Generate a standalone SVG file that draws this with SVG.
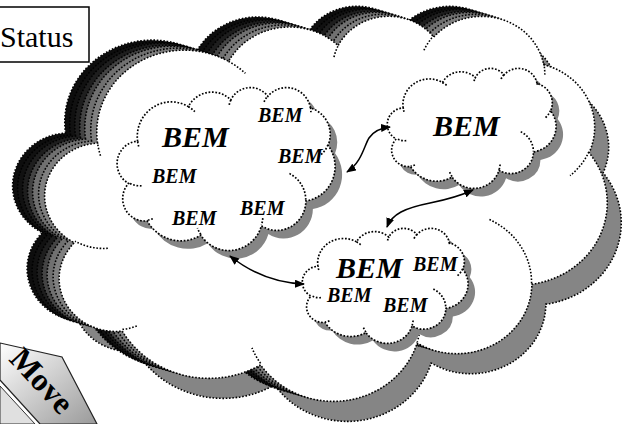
<svg xmlns="http://www.w3.org/2000/svg" xmlns:xlink="http://www.w3.org/1999/xlink" width="623" height="424" viewBox="0 0 623 424">
<style>
.dot{stroke:#000;stroke-width:1.6;stroke-dasharray:1.6 1.7;}
.ndot{stroke:#000;stroke-width:1.7;stroke-dasharray:1.7 1.7;vector-effect:non-scaling-stroke;}
.nf{fill:none;}
.wf{fill:#fff;}
.bem{font-family:"Liberation Serif","Times New Roman",serif;font-weight:bold;font-style:italic;fill:#000;}
.big{font-size:30px;}
.sm{font-size:20px;}
.conn{fill:none;stroke:#000;stroke-width:1.5;}
</style>
<defs>
<path id="oc" d="M50.56,128.07 A87.54,81.90 0 0 1 181.55,46.36 A69.13,64.76 0 0 1 291.10,30.58 A56.58,52.98 0 0 1 386.73,22.11 A62.96,58.77 0 0 1 496.72,49.70 A69.13,64.82 0 0 1 542.10,137.78 A87.82,82.17 0 0 1 484.86,269.16 A74.99,70.11 0 0 1 370.16,328.07 A87.53,82.12 0 0 1 213.62,349.91 A100.07,93.96 0 0 1 75.23,316.10 A56.52,52.74 0 0 1 27.38,227.68 A56.32,52.98 0 0 1 50.56,128.07 Z"/>
<path id="oi" d="M60.83,233.29 A56.32,52.98 0 0 1 28.0,226.19 M89.81,311.02 A56.52,52.74 0 0 1 75.44,314.42 M213.61,348.37 A87.53,82.12 0 0 1 204.95,332.87 M373.68,309.70 A87.53,82.12 0 0 1 370.23,326.71 M442.41,204.57 A74.99,70.11 0 0 1 484.56,268.16 M541.83,136.84 A69.13,64.82 0 0 1 523.05,160.69 M496.79,48.36 A62.96,58.77 0 0 1 497.78,59.62 M376.94,35.22 A62.96,58.77 0 0 1 386.56,20.85 M287.01,42.07 A56.58,52.98 0 0 1 291.67,29.68 M181.48,46.27 A87.54,81.90 0 0 1 198.32,58.29 M53.50,140.71 A87.54,81.90 0 0 1 50.56,128.07"/>
<path id="uc" vector-effect="non-scaling-stroke" d="M90.28,332.64 A156.32,212.73 0 0 1 324.20,120.42 A123.45,168.22 0 0 1 519.82,79.43 A101.04,137.62 0 0 1 690.59,57.43 A112.43,152.66 0 0 1 887.00,129.09 A123.45,168.36 0 0 1 968.03,357.88 A156.83,213.43 0 0 1 865.83,699.12 A133.91,182.11 0 0 1 661.00,852.13 A156.30,213.31 0 0 1 381.47,908.86 A178.70,244.05 0 0 1 134.34,821.05 A100.93,136.99 0 0 1 48.90,591.38 A100.58,137.62 0 0 1 90.28,332.64 Z"/>
<path id="ui" vector-effect="non-scaling-stroke" d="M108.63,605.95 A100.58,137.62 0 0 1 50.0,587.5 M160.37,807.85 A100.93,136.99 0 0 1 134.71,816.68 M381.44,904.86 A156.30,213.31 0 0 1 365.99,864.61 M667.29,804.42 A156.30,213.31 0 0 1 661.12,848.61 M790.02,531.34 A133.91,182.11 0 0 1 865.29,696.53 M967.55,355.42 A123.45,168.36 0 0 1 934.01,417.38 M887.13,125.60 A112.43,152.66 0 0 1 888.90,154.85 M673.10,91.48 A112.43,152.66 0 0 1 690.28,54.15 M512.52,109.26 A101.04,137.62 0 0 1 520.84,77.08 M324.07,120.19 A156.32,212.73 0 0 1 354.15,151.39 M95.53,365.49 A156.32,212.73 0 0 1 90.28,332.64"/>
<marker id="ah" viewBox="0 0 10 8" refX="9" refY="4" markerWidth="10" markerHeight="8" markerUnits="userSpaceOnUse" orient="auto-start-reverse">
<path d="M0,0 L10,4 L0,8 Z" fill="#000"/>
</marker>
<linearGradient id="mg" x1="0" y1="0" x2="1" y2="1">
<stop offset="0" stop-color="#ffffff"/>
<stop offset="1" stop-color="#9a9a9a"/>
</linearGradient>
</defs>
<rect width="623" height="424" fill="#fff"/>

<g id="main-cloud">
<use xlink:href="#oc" transform="translate(61,35)" fill="#858585" class="dot"/>
<use xlink:href="#oc" transform="translate(15,5)" fill="#0d0d0d" class="dot"/>
<use xlink:href="#oc" transform="translate(20,7)" fill="#111111" class="dot"/>
<use xlink:href="#oc" transform="translate(25,8)" fill="#1e1e1e" class="dot"/>
<use xlink:href="#oc" transform="translate(30,10)" fill="#444444" class="dot"/>
<use xlink:href="#oc" transform="translate(35,11)" fill="#707070" class="dot"/>
<use xlink:href="#oc" transform="translate(41,13)" fill="#808080" class="dot"/>
<use xlink:href="#oc" transform="translate(47,15)" fill="#fff" class="dot"/>
<use xlink:href="#oi" transform="translate(47,15)" fill="none" class="dot"/>
</g>

<g id="cloud-a">
<use xlink:href="#uc" transform="translate(125,95) scale(0.217,0.163)" fill="#858585"/>
<use xlink:href="#uc" transform="translate(118,87) scale(0.217,0.163)" class="ndot wf"/>
<use xlink:href="#ui" transform="translate(118,87) scale(0.217,0.163)" class="ndot nf"/>
<text class="bem big" x="162" y="147">BEM</text>
<text class="bem sm" x="258" y="122">BEM</text>
<text class="bem sm" x="278" y="163">BEM</text>
<text class="bem sm" x="152" y="183">BEM</text>
<text class="bem sm" x="240" y="215">BEM</text>
<text class="bem sm" x="172" y="225">BEM</text>
</g>

<g id="cloud-b">
<use xlink:href="#uc" transform="translate(395,76) scale(0.168,0.120)" fill="#858585"/>
<use xlink:href="#uc" transform="translate(388,68) scale(0.168,0.120)" class="ndot wf"/>
<use xlink:href="#ui" transform="translate(388,68) scale(0.168,0.120)" class="ndot nf"/>
<text class="bem big" x="433" y="136">BEM</text>
</g>

<g id="cloud-c">
<use xlink:href="#uc" transform="translate(310,236) scale(0.165,0.115)" fill="#858585"/>
<use xlink:href="#uc" transform="translate(303,228) scale(0.165,0.115)" class="ndot wf"/>
<use xlink:href="#ui" transform="translate(303,228) scale(0.165,0.115)" class="ndot nf"/>
<text class="bem big" x="336" y="278">BEM</text>
<text class="bem sm" x="413" y="271">BEM</text>
<text class="bem sm" x="327" y="302">BEM</text>
<text class="bem sm" x="383" y="312">BEM</text>
</g>

<g id="connectors">
<path class="conn" d="M347,172 C362,162 364,146 369,138 C373,132 380,128 390,127" marker-start="url(#ah)" marker-end="url(#ah)"/>
<path class="conn" d="M387,227 C392,214 405,208 430,203 C450,199 462,195 473,190" marker-start="url(#ah)" marker-end="url(#ah)"/>
<path class="conn" d="M230,256 C250,272 275,283 304,284" marker-start="url(#ah)" marker-end="url(#ah)"/>
</g>

<g id="status">
<rect x="-2" y="7" width="91" height="55" fill="#fff" stroke="#000" stroke-width="1.5"/>
<text x="0" y="47" font-family="Liberation Serif, 'Times New Roman', serif" font-size="30">Status</text>
</g>

<g id="move">
<polygon points="0,392 30,424 0,424" fill="#cfcfcf" stroke="#333" stroke-width="1"/>
<polygon points="0,386 35,424 0,424" fill="#e0e0e0" stroke="#333" stroke-width="1"/>
<polygon points="0,343 62,357 97,424 40,424 0,380" fill="url(#mg)" stroke="#222" stroke-width="1.2"/>
<text transform="translate(8,360) rotate(47)" font-family="Liberation Serif, 'Times New Roman', serif" font-weight="bold" font-size="32">Move</text>
</g>
</svg>
